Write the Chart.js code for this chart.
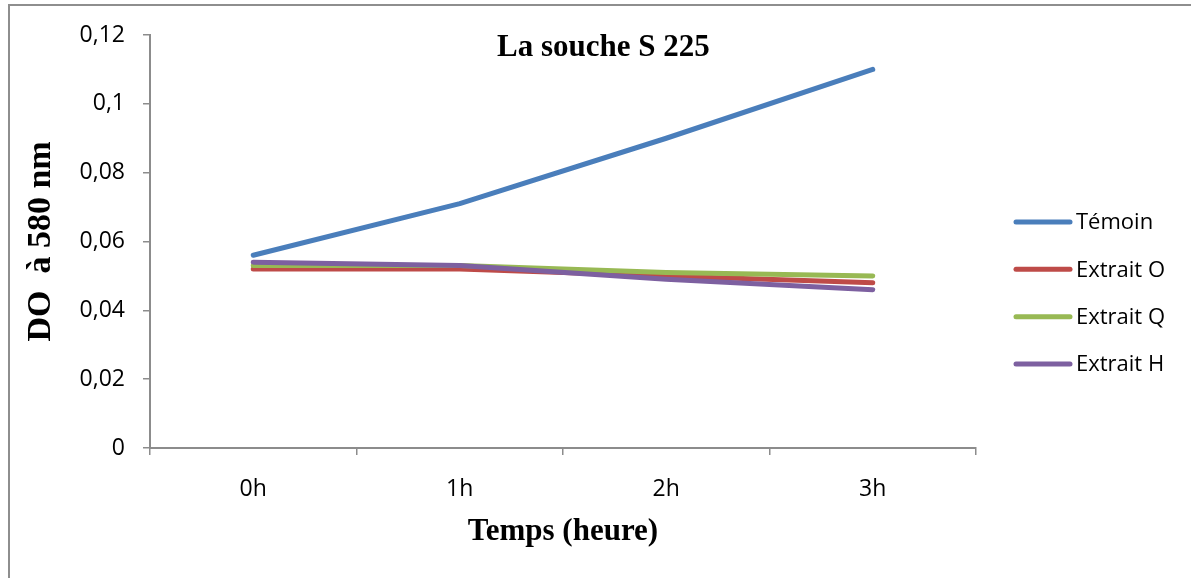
<!DOCTYPE html>
<html>
<head>
<meta charset="utf-8">
<script src="https://cdn.jsdelivr.net/npm/chart.js@4.4.1/dist/chart.umd.min.js"></script>
<style>
  html, body { margin: 0; padding: 0; background: #fff; }
  #wrap { position: relative; width: 1191px; height: 578px; overflow: hidden; }
  #frame { position: absolute; left: 8px; top: 4px; right: -10px; bottom: -10px;
           border-left: 2px solid #8e8e8e; border-top: 2px solid #8e8e8e; }
  #chart { position: absolute; left: 0; top: 0; }
</style>
</head>
<body>
<div id="wrap">
  <div id="frame"></div>
  <canvas id="chart" width="1191" height="578"></canvas>
</div>
<script>
/* ---------- DONNEES ---------- */
const categories = ['0h', '1h', '2h', '3h'];
const temoin    = [0.056, 0.071, 0.090, 0.110];
const extraitO  = [0.052, 0.052, 0.050, 0.048];
const extraitQ  = [0.053, 0.053, 0.051, 0.050];
const extraitH  = [0.054, 0.053, 0.049, 0.046];
const yTicks      = [0, 0.02, 0.04, 0.06, 0.08, 0.10, 0.12];
const yTickLabels = ['0', '0,02', '0,04', '0,06', '0,08', '0,1', '0,12'];

const COLORS = {
  blue:   '#4a7ebb',
  red:    '#be4b48',
  green:  '#98b954',
  purple: '#7d60a0',
  axis:   '#8c8c8c'
};

const SERIF = '"Liberation Serif", "Times New Roman", serif';
const SANS  = '"Open Sans", "Noto Sans", sans-serif';

/* ---------- PLUGIN: titre interne + legende a droite ---------- */
const decor = {
  id: 'decor',
  afterDraw(chart) {
    const { ctx, chartArea } = chart;
    ctx.save();
    // titre dans la zone de trace
    ctx.font = 'bold 31px ' + SERIF;
    ctx.fillStyle = '#000';
    ctx.textAlign = 'center';
    ctx.textBaseline = 'alphabetic';
    ctx.fillText('La souche S 225', chartArea.left + chartArea.width * 0.549, chartArea.top + 21);

    // legende
    const x0 = chartArea.right + 40;
    const step = 47.3;
    const y0 = chart.height / 2 - step * 1.5 + 4;
    ctx.font = '22px ' + SANS;
    ctx.textAlign = 'left';
    ctx.textBaseline = 'middle';
    chart.data.datasets.forEach((ds, i) => {
      const y = y0 + i * step;
      ctx.strokeStyle = ds.borderColor;
      ctx.lineWidth = 5;
      ctx.lineCap = 'round';
      ctx.beginPath();
      ctx.moveTo(x0, y);
      ctx.lineTo(x0 + 54, y);
      ctx.stroke();
      ctx.fillStyle = '#000';
      ctx.fillText(ds.label, x0 + 60, y + 1);
    });
    ctx.restore();
  }
};

function serie(label, data, color, order) {
  return {
    label, data,
    borderColor: color,
    backgroundColor: color,
    borderWidth: 5,
    borderCapStyle: 'round',
    borderJoinStyle: 'round',
    pointRadius: 0,
    tension: 0,
    order
  };
}

new Chart(document.getElementById('chart'), {
  type: 'line',
  data: {
    labels: categories,
    datasets: [
      serie('Témoin',    temoin,   COLORS.blue,   4),
      serie('Extrait O', extraitO, COLORS.red,    3),
      serie('Extrait Q', extraitQ, COLORS.green,  2),
      serie('Extrait H', extraitH, COLORS.purple, 1)
    ]
  },
  options: {
    responsive: false,
    animation: false,
    layout: { padding: { top: 35, right: 215, bottom: 0, left: 0 } },
    plugins: {
      legend: { display: false },
      tooltip: { enabled: false }
    },
    scales: {
      x: {
        offset: true,
        grid: { offset: true, drawOnChartArea: false, drawTicks: true, tickLength: 7, color: COLORS.axis, lineWidth: 1.5 },
        border: { color: COLORS.axis, width: 2 },
        ticks: { color: '#000', padding: 21, font: { family: SANS, size: 23 } },
        title: { display: true, text: 'Temps (heure)', color: '#000',
                 font: { family: SERIF, size: 31, weight: 'bold' }, padding: { top: 0, bottom: 27 } },
        afterFit(scale) { scale.height = 130; }
      },
      y: {
        min: 0,
        max: 0.12,
        afterBuildTicks(scale) { scale.ticks = yTicks.map(v => ({ value: v })); },
        grid: { drawOnChartArea: false, drawTicks: true, tickLength: 7, color: COLORS.axis, lineWidth: 1.5 },
        border: { color: COLORS.axis, width: 2 },
        ticks: {
          color: '#000', padding: 18, font: { family: SANS, size: 23 },
          callback: (v, i) => yTickLabels[i]
        },
        title: { display: true, text: 'DO  à 580 nm', color: '#000',
                 font: { family: SERIF, size: 34, weight: 'bold' }, padding: { top: 21, bottom: 0 } },
        afterFit(scale) { scale.width = 150; }
      }
    }
  },
  plugins: [decor]
});
</script>
</body>
</html>
